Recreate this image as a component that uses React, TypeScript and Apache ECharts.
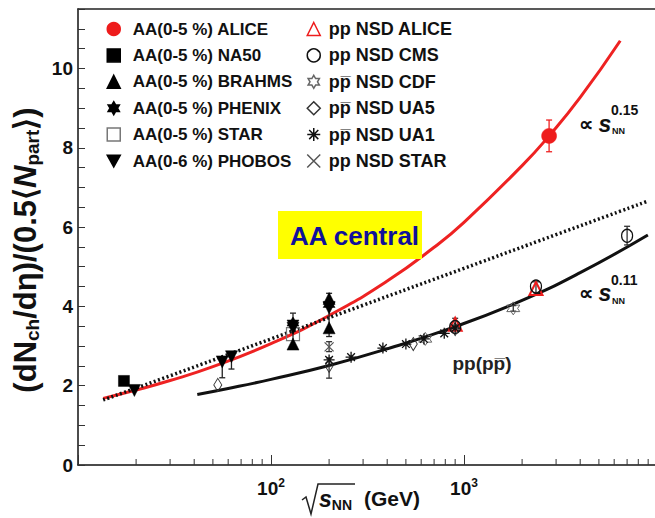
import React, { useEffect, useRef } from 'react';
import * as echarts from 'echarts';

const FONT = '"Liberation Sans", Arial, Helvetica, sans-serif';

// ---- fit curves (sqrt(s_NN) in GeV, value) ----
const aliceFit = [[13.5, 1.68], [20, 1.89], [30, 2.13], [50, 2.48], [100, 3.06], [200, 3.77], [400, 4.64], [700, 5.49], [1000, 6.12], [2000, 7.55], [2760, 8.3], [4000, 9.27], [6450, 10.7]];
const rhicFit = [[13.5, 1.64], [30, 2.25], [100, 3.18], [300, 4.03], [1000, 4.96], [3000, 5.81], [8800, 6.64]];
const ppFit = [[41.5, 1.78], [60, 1.93], [100, 2.16], [200, 2.51], [400, 2.93], [900, 3.49], [2000, 4.15], [4000, 4.85], [8970, 5.8]];

// ---- AA data ----
const aliceAA = [[2760, 8.3]];
const na50 = [[17.3, 2.12]];
const brahms = [[130, 3.05], [200, 4.2], [200, 3.46]];
const phenix = [[130, 3.58], [200, 4.05]];
const starAA = [[130, 3.3]];
const phobos = [[19.6, 1.88], [55.9, 2.6], [62.4, 2.73], [130, 3.45], [200, 3.96]];
const aliceAAErr = [[2760, 7.9, 8.7]];
const aaErr = [[130, 2.95, 3.83], [200, 3.24, 4.33], [55.9, 2.2, 2.6], [62.4, 2.42, 2.73]];

// ---- pp data ----
const alicePP = [[900, 3.55], [2360, 4.45]];
const cms = [[900, 3.48], [2360, 4.5], [7000, 5.78]];
const cdf = [[630, 3.18], [1800, 3.95]];
const ua5 = [[53, 2.02], [200, 2.5], [546, 3.05], [900, 3.43]];
const ua1 = [[200, 2.65], [260, 2.72], [380, 2.95], [500, 3.05], [620, 3.18], [790, 3.32], [900, 3.45]];
const starPP = [[200, 2.98]];
const ppErr = [[200, 2.19, 2.7], [200, 2.86, 3.11], [7000, 5.55, 6.02], [2360, 4.35, 4.62], [900, 3.4, 3.7], [1800, 3.88, 4.02]];

// ---- axes ----
const xMinorTicks = [20, 30, 40, 50, 60, 70, 80, 90, 200, 300, 400, 500, 600, 700, 800, 900, 2000, 3000, 4000, 5000, 6000, 7000, 8000, 9000];
const xLabelValues = [100, 1000];
const xLabelExponents = ['2', '3'];
const yLabelValues = [0, 2, 4, 6, 8, 10];

const aaNames = ['AA(0-5 %) ALICE', 'AA(0-5 %) NA50', 'AA(0-5 %) BRAHMS', 'AA(0-5 %) PHENIX', 'AA(0-5 %) STAR', 'AA(0-6 %) PHOBOS'];
const ppNames = ['pp NSD ALICE', 'pp NSD CMS', 'pp\u0305 NSD CDF', 'pp\u0305 NSD UA5', 'pp\u0305 NSD UA1', 'pp NSD STAR'];

const HEX = 'path://M5,0L6.44,2.5L9.33,2.5L7.89,5L9.33,7.5L6.44,7.5L5,10L3.56,7.5L0.67,7.5L2.11,5L0.67,2.5L3.56,2.5Z';
const INV_TRI = 'path://M0,0L10,0L5,9Z';
const ASTER = 'path://M5,0L5,10M0,5L10,5M1.5,1.5L8.5,8.5M8.5,1.5L1.5,8.5';
const CROSS = 'path://M0,0L10,10M10,0L0,10';
const CLEAR = 'rgba(255,255,255,0)';

function scatter(name: string, data: number[][], symbol: string, size: any, color: string, border: string, bw: number) {
  return {
    type: 'scatter', name, data, symbol, symbolSize: size, z: 5,
    itemStyle: { color, borderColor: border, borderWidth: bw, opacity: 1 },
  };
}

function errBars(data: number[][], color: string) {
  return {
    type: 'custom', data, z: 4, silent: true,
    encode: { x: 0, y: [1, 2] },
    renderItem: (params: any, api: any) => {
      const x = api.value(0);
      const p1 = api.coord([x, api.value(1)]);
      const p2 = api.coord([x, api.value(2)]);
      const st = { stroke: color, lineWidth: 1.3 };
      return {
        type: 'group',
        children: [
          { type: 'line', shape: { x1: p1[0], y1: p1[1], x2: p2[0], y2: p2[1] }, style: st },
          { type: 'line', shape: { x1: p1[0] - 3, y1: p1[1], x2: p1[0] + 3, y2: p1[1] }, style: st },
          { type: 'line', shape: { x1: p2[0] - 3, y1: p2[1], x2: p2[0] + 3, y2: p2[1] }, style: st },
        ],
      };
    },
  };
}

function fitLine(name: string, data: number[][], color: string, type: any, width: number) {
  return {
    type: 'line', name, data, smooth: true, symbol: 'none', z: 3, silent: true,
    lineStyle: { color, width, type, cap: 'butt' },
  };
}

const legendBase = {
  orient: 'vertical', top: 19, itemWidth: 13, itemHeight: 13, itemGap: 6.4,
  selectedMode: false, padding: 0,
  itemStyle: { borderWidth: 1.5 },
};

const option: any = {
  animation: false,
  backgroundColor: '#fff',
  grid: { left: 78, right: -2, top: 9, bottom: 53, outerBoundsMode: 'none' },
  xAxis: [
    {
      type: 'log', logBase: 10, min: 10, max: 10000,
      axisLine: { lineStyle: { color: '#111', width: 1.5 } },
      axisTick: { inside: true, length: 10, lineStyle: { color: '#333', width: 1 } },
      splitLine: { show: false },
      axisLabel: {
        margin: 12, color: '#111',
        formatter: (v: number) => {
          const i = xLabelValues.indexOf(Math.round(v));
          return i >= 0 ? '{a|10}{s|' + xLabelExponents[i] + '}' : '';
        },
        rich: {
          a: { fontSize: 19, fontWeight: 'bold', fontFamily: FONT, color: '#111', lineHeight: 22 },
          s: { fontSize: 12, fontWeight: 'bold', fontFamily: FONT, color: '#111', verticalAlign: 'top', lineHeight: 8 },
        },
      },
    },
    {
      type: 'log', logBase: 10, min: 10, max: 10000, position: 'top',
      axisLine: { lineStyle: { color: '#222', width: 1.5 } },
      axisTick: { show: false }, axisLabel: { show: false }, splitLine: { show: false },
    },
  ],
  yAxis: {
    type: 'value', min: 0, max: 11.5, interval: 0.5,
    axisLine: { show: true, lineStyle: { color: '#111', width: 1.5 } },
    axisTick: { show: true, inside: true, length: 7, lineStyle: { color: '#333', width: 1 } },
    splitLine: { show: false },
    axisLabel: {
      margin: 5, fontSize: 19, fontWeight: 'bold', fontFamily: FONT, color: '#111',
      formatter: (v: number) => (yLabelValues.indexOf(v) >= 0 ? String(v) : ''),
    },
  },
  legend: [
    {
      ...legendBase, left: 106.5, data: aaNames,
      textStyle: { fontSize: 17, fontWeight: 'bold', fontFamily: FONT, color: '#111', lineHeight: 20, padding: [0, 0, 0, 7.5] },
    },
    {
      ...legendBase, left: 306.5, data: ppNames,
      textStyle: { fontSize: 18, fontWeight: 'bold', fontFamily: FONT, color: '#111', lineHeight: 20, padding: [0, 0, 0, 3.5] },
    },
  ],
  series: [
    fitLine('fitAlice', aliceFit, '#ee2222', 'solid', 3),
    fitLine('fitRhic', rhicFit, '#111', [2, 2.5], 3.5),
    fitLine('fitPP', ppFit, '#111', 'solid', 3),
    errBars(aaErr, '#222'),
    errBars(ppErr, '#333'),
    errBars(aliceAAErr, '#ee2222'),
    scatter(aaNames[4], starAA, 'rect', 13, CLEAR, '#777', 1.2),
    scatter(aaNames[0], aliceAA, 'circle', 15, '#ee1c1c', '#ee1c1c', 0.5),
    scatter(aaNames[1], na50, 'rect', 11, '#000', '#000', 0.5),
    scatter(aaNames[2], brahms, 'triangle', 12, '#000', '#000', 0.5),
    scatter(aaNames[3], phenix, HEX, 12, '#000', '#000', 0.5),
    scatter(aaNames[5], phobos, INV_TRI, 12, '#000', '#000', 0.5),
    scatter(ppNames[0], alicePP, 'triangle', 13, CLEAR, '#ee1c1c', 2),
    scatter(ppNames[1], cms, 'circle', [11, 13], CLEAR, '#111', 1.3),
    scatter(ppNames[2], cdf, HEX, 13, CLEAR, '#666', 1),
    scatter(ppNames[3], ua5, 'diamond', [8, 13], CLEAR, '#333', 1),
    scatter(ppNames[4], ua1, ASTER, 11, CLEAR, '#111', 1.3),
    scatter(ppNames[5], starPP, CROSS, 9, CLEAR, '#555', 1.2),
    {
      type: 'custom', silent: true, z: 6,
      data: xMinorTicks.map((v) => [v, 0]),
      renderItem: (params: any, api: any) => {
        const p = api.coord([api.value(0), 0]);
        return { type: 'line', shape: { x1: p[0], y1: p[1], x2: p[0], y2: p[1] - 6 }, style: { stroke: '#333', lineWidth: 1 } };
      },
    },
  ],
  graphic: [
    {
      type: 'text', x: 25, y: 250, rotation: Math.PI / 2, z: 10,
      style: {
        text: '{m|(dN}{sub|ch}{m|/dη)/(0.5⟨}{mi|N}{sub|part}{m|⟩)}',
        align: 'center', verticalAlign: 'middle', fill: '#111',
        rich: {
          m: { fontSize: 31, fontWeight: 'bold', fontFamily: FONT, fill: '#111', lineHeight: 34 },
          mi: { fontSize: 31, fontWeight: 'bold', fontStyle: 'italic', fontFamily: FONT, fill: '#111', lineHeight: 34 },
          sub: { fontSize: 19, fontWeight: 'bold', fontFamily: FONT, fill: '#111', lineHeight: 12, verticalAlign: 'bottom' },
        },
      },
    },
    {
      type: 'polyline', z: 10,
      shape: { points: [[302, 500], [306, 497], [311, 514], [318, 484], [355, 484]] },
      style: { stroke: '#222', lineWidth: 1.5, fill: null },
    },
    {
      type: 'text', x: 319, y: 499, z: 10,
      style: {
        text: '{s|s}{n|NN}', align: 'left', verticalAlign: 'middle',
        rich: {
          s: { fontSize: 23, fontWeight: 'bold', fontStyle: 'italic', fontFamily: FONT, fill: '#111', lineHeight: 26 },
          n: { fontSize: 14, fontWeight: 'bold', fontFamily: FONT, fill: '#111', lineHeight: 10, verticalAlign: 'bottom' },
        },
      },
    },
    {
      type: 'text', x: 364, y: 498, z: 10,
      style: { text: '(GeV)', fontSize: 21, fontWeight: 'bold', fontFamily: FONT, fill: '#111', align: 'left', verticalAlign: 'middle' },
    },
    { type: 'rect', z: 10, shape: { x: 278, y: 211, width: 144, height: 48 }, style: { fill: '#ffff00' } },
    {
      type: 'text', x: 290, y: 236, z: 11,
      style: { text: 'AA central', fontSize: 26, fontWeight: 'bold', fontFamily: FONT, fill: '#10109a', align: 'left', verticalAlign: 'middle' },
    },
    { type: 'text', x: 586, y: 124, z: 10, style: { text: '∝', fontSize: 20, fontWeight: 'bold', fontFamily: FONT, fill: '#111', align: 'center', verticalAlign: 'middle' } },
    { type: 'text', x: 605, y: 124, z: 10, style: { text: 's', fontSize: 23, fontWeight: 'bold', fontStyle: 'italic', fontFamily: FONT, fill: '#111', align: 'center', verticalAlign: 'middle' } },
    { type: 'text', x: 611, y: 110, z: 10, style: { text: '0.15', fontSize: 14, fontWeight: 'bold', fontFamily: FONT, fill: '#111', align: 'left', verticalAlign: 'middle' } },
    { type: 'text', x: 612, y: 131, z: 10, style: { text: 'NN', fontSize: 9, fontWeight: 'bold', fontFamily: FONT, fill: '#111', align: 'left', verticalAlign: 'middle' } },
    { type: 'text', x: 586, y: 293, z: 10, style: { text: '∝', fontSize: 20, fontWeight: 'bold', fontFamily: FONT, fill: '#111', align: 'center', verticalAlign: 'middle' } },
    { type: 'text', x: 605, y: 293, z: 10, style: { text: 's', fontSize: 23, fontWeight: 'bold', fontStyle: 'italic', fontFamily: FONT, fill: '#111', align: 'center', verticalAlign: 'middle' } },
    { type: 'text', x: 611, y: 280, z: 10, style: { text: '0.11', fontSize: 14, fontWeight: 'bold', fontFamily: FONT, fill: '#111', align: 'left', verticalAlign: 'middle' } },
    { type: 'text', x: 612, y: 301, z: 10, style: { text: 'NN', fontSize: 9, fontWeight: 'bold', fontFamily: FONT, fill: '#111', align: 'left', verticalAlign: 'middle' } },
    {
      type: 'text', x: 482, y: 363, z: 10,
      style: { text: 'pp(pp\u0305)', fontSize: 19, fontWeight: 'bold', fontFamily: FONT, fill: '#222', align: 'center', verticalAlign: 'middle' },
    },
  ],
};

export default function App() {
  const ref = useRef<HTMLDivElement>(null);
  useEffect(() => {
    if (!ref.current) return;
    const chart = echarts.init(ref.current, undefined, { renderer: 'svg' });
    chart.setOption(option);
    return () => chart.dispose();
  }, []);
  return (
    <div
      ref={ref}
      style={{ position: 'absolute', left: 0, top: 0, width: 655, height: 518, background: '#fff' }}
    />
  );
}
